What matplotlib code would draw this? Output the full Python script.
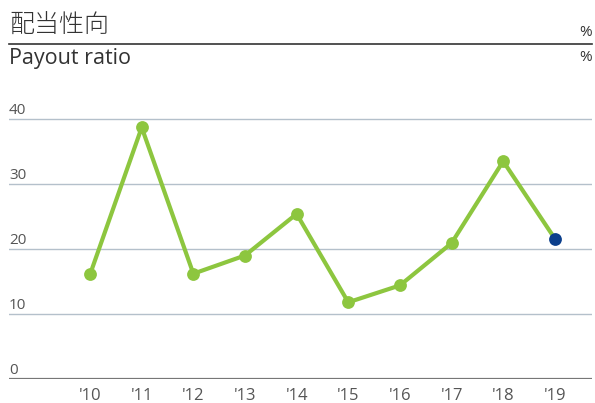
import matplotlib
matplotlib.use("Agg")
import matplotlib.pyplot as plt
import matplotlib.transforms as mtransforms

years = ["'10", "'11", "'12", "'13", "'14", "'15", "'16", "'17", "'18", "'19"]
payout = [16.1, 38.7, 16.2, 19.0, 25.4, 11.8, 14.4, 20.9, 33.5, 21.6]
yticks = [0, 10, 20, 30, 40]
title_jp = "配当性向"
title_en = "Payout ratio"
unit = "%"

green = "#8dc63f"
blue = "#0b3f8c"
grid_c = "#b4c0cb"
text_c = "#555555"

plt.rcParams['font.family'] = ['Open Sans', 'Noto Sans CJK JP', 'DejaVu Sans']

W, H = 595, 403
fig = plt.figure(figsize=(W / 100, H / 100), dpi=100)

def fx(px):
    return px / W

def fy(py):
    return 1 - py / H

ax = fig.add_axes([fx(9), fy(379), fx(592) - fx(9), fy(99.5) - fy(379)])
x = list(range(len(years)))
ax.set_xlim(-1.57, 9.72)
ax.set_ylim(0, 43)

for t in yticks[1:]:
    ax.axhline(t, color=grid_c, lw=1.0, zorder=1)
ax.axhline(0, color="#777777", lw=1.6, zorder=2)

ax.plot(x, payout, color=green, lw=3, zorder=3)
ax.scatter(x[:-1], payout[:-1], s=85, color=green, zorder=4, linewidths=0)
ax.scatter(x[-1:], payout[-1:], s=85, color=blue, zorder=5, linewidths=0)

for s in ax.spines.values():
    s.set_visible(False)
ax.set_xticks([])
ax.set_yticks([])

trans = mtransforms.blended_transform_factory(fig.transFigure, ax.transData)
for t in yticks:
    ax.text(fx(9), t + 0.8, str(t), transform=trans, ha='left', va='baseline',
            fontsize=11, color=text_c, clip_on=False)

xtrans = mtransforms.blended_transform_factory(ax.transData, fig.transFigure)
for xi, lab in zip(x, years):
    ax.text(xi, fy(400), lab, transform=xtrans,
            ha='center', va='baseline', fontsize=12, color=text_c, clip_on=False)

fig.text(fx(9), fy(26), title_jp, fontsize=18, color="#333333", ha='left', va='center',
         family=['Noto Sans CJK JP', 'DejaVu Sans'], fontweight='light')
fig.add_artist(plt.Line2D([fx(9), fx(592)], [fy(43.5), fy(43.5)], color="#333333", lw=1.2))
fig.text(fx(9), fy(64), title_en, fontsize=15.5, color="#333333", ha='left', va='baseline')
fig.text(fx(592), fy(36), unit, fontsize=11, color="#333333", ha='right', va='baseline')
fig.text(fx(592), fy(61), unit, fontsize=11, color="#333333", ha='right', va='baseline')

fig.savefig("out.png", dpi=100)
